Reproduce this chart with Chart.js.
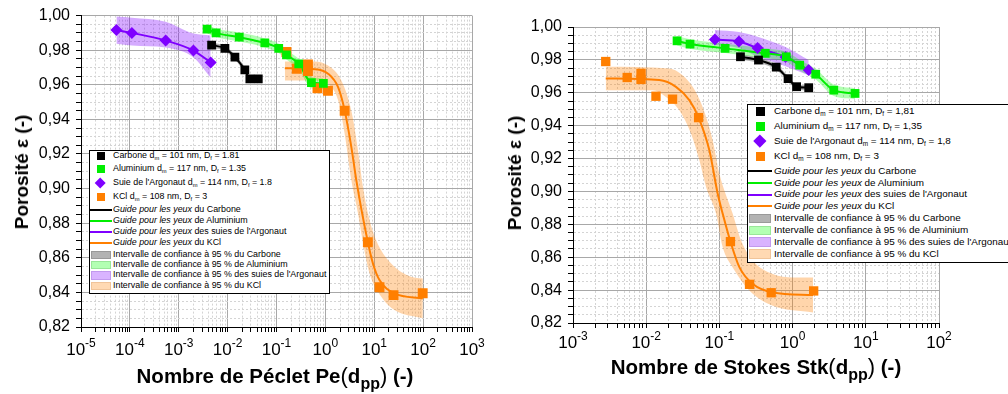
<!DOCTYPE html>
<html>
<head>
<meta charset="utf-8">
<script src="https://cdn.jsdelivr.net/npm/chart.js@4.4.0/dist/chart.umd.min.js"></script>
<style>
body { margin: 0; width: 1008px; height: 394px; overflow: hidden; background: #fff; position: relative;
       font-family: "Liberation Sans", Arial, sans-serif; }
canvas { position: absolute; top: 0; }
.ytitle { position: absolute; font-weight: bold; font-size: 19px; white-space: nowrap;
          transform: translate(-50%, -50%) rotate(-90deg); }
.xtitle { position: absolute; font-weight: bold; font-size: 20.5px; white-space: nowrap; transform: translateX(-50%); }
.xtitle .par { font-weight: normal; font-size: 22px; }
.xtitle sub { font-size: 16px; vertical-align: -6px; line-height: 0; }
.legend { position: absolute; background: #fff; border: 1px solid #000; overflow: hidden; }
.row { position: absolute; left: 0; white-space: nowrap; line-height: 1; }
.row sub { font-size: 65%; vertical-align: -2px; line-height: 0; }
.mk { position: absolute; }
.ln { position: absolute; left: 0; height: 2px; }
.sw { position: absolute; box-sizing: border-box; border: 1px solid; }
</style>
</head>
<body>
<canvas id="pe" width="500" height="394" style="left:0"></canvas>
<canvas id="st" width="508" height="394" style="left:500px"></canvas>

<div class="ytitle" style="left:22px; top:172px">Porosité ε (-)</div>
<div class="ytitle" style="left:515px; top:173px">Porosité ε (-)</div>
<div class="xtitle" style="left:275px; top:363px">Nombre de Péclet Pe<span class="par">(</span>d<sub>pp</sub><span class="par">)</span> (-)</div>
<div class="xtitle" style="left:756px; top:354px">Nombre de Stokes Stk<span class="par">(</span>d<sub>pp</sub><span class="par">)</span> (-)</div>

<div class="legend" id="legPe" style="left:89px; top:150px; width:239px; height:142px"></div>
<div class="legend" id="legSt" style="left:747px; top:104px; width:300px; height:157px"></div>

<script>
// ---- Péclet panel (left) ----
const peCarbX = [0.0047, 0.0088, 0.0141, 0.0225, 0.0285, 0.0424];
const peCarbY = [0.983, 0.981, 0.976, 0.9686, 0.9634, 0.9634];
const peCarbHi = [0.9845, 0.9825, 0.9775, 0.9703, 0.965, 0.965];
const peCarbLo = [0.9815, 0.9795, 0.9745, 0.967, 0.962, 0.962];

const peAlX = [0.0038, 0.0058, 0.0173, 0.0577, 0.111, 0.16, 0.285, 0.518, 0.91];
const peAlY = [0.9922, 0.990, 0.9875, 0.9842, 0.9811, 0.9773, 0.9721, 0.9613, 0.9608];
const peAlHi = [0.9948, 0.9925, 0.9902, 0.9868, 0.9838, 0.980, 0.975, 0.9645, 0.9638];
const peAlLo = [0.9898, 0.9876, 0.985, 0.9816, 0.9784, 0.9746, 0.969, 0.958, 0.9575];

const peSuieX = [5.3e-5, 1.1e-4, 5.4e-4, 2.0e-3, 4.5e-3];
const peSuieY = [0.9917, 0.990, 0.9856, 0.9798, 0.9729];
const peSuieHi = [0.9995, 0.9988, 0.9965, 0.9896, 0.9885];
const peSuieLo = [0.9838, 0.9827, 0.9815, 0.9758, 0.9642];

const peKclX = [0.16, 0.26, 0.44, 0.44, 0.69, 1.13, 2.48, 7.4, 12.8, 24.8, 98];
const peKclY = [0.979, 0.9693, 0.9718, 0.968, 0.958, 0.9566, 0.945, 0.869, 0.843, 0.8384, 0.8395];
const peKclFitX = [0.148, 0.6, 1.135, 1.82, 2.48, 3.40, 4.30, 7.43, 9.4, 12.8, 25.9, 98.6];
const peKclFitY = [0.9696, 0.969, 0.9664, 0.9586, 0.9452, 0.924, 0.9048, 0.8688, 0.8567, 0.8471, 0.8394, 0.8365];
const peKclHiX = [0.148, 0.596, 1.135, 2.12, 3.40, 4.65, 5.87, 7.43, 11.0, 22.2, 56.9, 98.6];
const peKclHiY = [0.9735, 0.9735, 0.9711, 0.9625, 0.945, 0.922, 0.901, 0.8856, 0.870, 0.8567, 0.849, 0.848];
const peKclLoX = [0.148, 0.71, 1.33, 1.82, 2.48, 3.40, 4.65, 5.87, 8.0, 13.9, 25.9, 98.6];
const peKclLoY = [0.9625, 0.9625, 0.9586, 0.951, 0.9317, 0.9048, 0.8856, 0.8688, 0.851, 0.8375, 0.8298, 0.825];

const peExps = [-5, -4, -3, -2, -1, 0, 1, 2, 3];

// ---- Stokes panel (right) ----
const stCarbX = [0.194, 0.342, 0.598, 0.867, 1.135, 1.66];
const stCarbY = [0.9819, 0.9799, 0.9756, 0.9686, 0.9637, 0.9631];
const stCarbHi = [0.9835, 0.9815, 0.9772, 0.9702, 0.9652, 0.9647];
const stCarbLo = [0.9803, 0.9783, 0.974, 0.967, 0.9622, 0.9615];

const stAlX = [0.0264, 0.0397, 0.1197, 0.423, 0.82, 1.25, 2.07, 3.65, 7.13];
const stAlY = [0.9916, 0.9896, 0.987, 0.984, 0.9819, 0.9768, 0.9713, 0.9616, 0.9596];
const stAlHi = [0.9945, 0.9925, 0.9898, 0.987, 0.985, 0.980, 0.9745, 0.965, 0.9628];
const stAlLo = [0.9888, 0.9868, 0.9842, 0.981, 0.9788, 0.9736, 0.968, 0.958, 0.9562];

const stSuieX = [0.0867, 0.185, 0.332, 0.80, 1.66];
const stSuieY = [0.9924, 0.9912, 0.9872, 0.9817, 0.9738];
const stSuieHi = [0.9982, 0.997, 0.9941, 0.9878, 0.9799];
const stSuieLo = [0.989, 0.9872, 0.9819, 0.9762, 0.9707];

const stKclX = [0.0028, 0.0055, 0.0085, 0.0085, 0.0136, 0.0229, 0.052, 0.1415, 0.258, 0.51, 1.94];
const stKclY = [0.979, 0.9693, 0.9718, 0.9681, 0.9579, 0.9561, 0.9449, 0.8695, 0.8435, 0.8384, 0.8395];
const stKclFitX = [0.0028, 0.01507, 0.0255, 0.0388, 0.052, 0.0729, 0.0948, 0.111, 0.1415, 0.188, 0.286, 0.537, 1.90];
const stKclFitY = [0.9687, 0.9677, 0.9636, 0.9555, 0.9449, 0.925, 0.8986, 0.8864, 0.8695, 0.8538, 0.8437, 0.8386, 0.837];
const stKclHiX = [0.0028, 0.02065, 0.0314, 0.0431, 0.059, 0.0809, 0.1, 0.152, 0.198, 0.286, 0.537, 1.01, 1.90];
const stKclHiY = [0.9758, 0.9748, 0.9707, 0.9636, 0.9514, 0.9311, 0.9108, 0.8864, 0.8701, 0.8579, 0.8498, 0.8477, 0.8477];
const stKclLoX = [0.0028, 0.0122, 0.0186, 0.0283, 0.0409, 0.0532, 0.0658, 0.0902, 0.111, 0.152, 0.258, 0.537, 1.90];
const stKclLoY = [0.9616, 0.9616, 0.9575, 0.9494, 0.9352, 0.9189, 0.9026, 0.8864, 0.866, 0.8538, 0.8396, 0.8305, 0.8264];

const stExps = [-3, -2, -1, 0, 1, 2];

// shared y ticks
const yTicks = [0.82, 0.84, 0.86, 0.88, 0.90, 0.92, 0.94, 0.96, 0.98, 1.00];

const colCarb = '#000000', colAl = '#00ee00', colSuie = '#7f00ff', colKcl = '#ff7f00';
const bandCarb = 'rgba(0,0,0,0.3)', bandAl = 'rgba(0,255,0,0.3)', bandSuie = 'rgba(127,0,255,0.33)', bandKcl = 'rgba(255,127,0,0.33)';
const FONT = '"Liberation Sans", Arial, sans-serif';

function pts(xs, ys) {
  return xs.map(function(x, i) { return {x: x, y: ys[i]}; });
}

function band(hiX, hiY, loX, loY, col) {
  return [
    {data: pts(hiX, hiY), fill: '+1', backgroundColor: col, borderWidth: 0, pointRadius: 0, cubicInterpolationMode: 'monotone', order: 3},
    {data: pts(loX, loY), fill: false, borderWidth: 0, pointRadius: 0, cubicInterpolationMode: 'monotone', order: 3}
  ];
}
function guide(xs, ys, col) {
  return {data: pts(xs, ys), borderColor: col, borderWidth: 2, pointRadius: 0, fill: false, cubicInterpolationMode: 'monotone', order: 2};
}
function marks(xs, ys, col, style, r) {
  return {data: pts(xs, ys), showLine: false, pointStyle: style, pointRadius: r, pointBackgroundColor: col,
          pointBorderColor: col, pointBorderWidth: 0, order: 1};
}

const decadeLabels = {
  id: 'decade',
  afterDraw(chart, args, opts) {
    const ctx = chart.ctx, sc = chart.scales.x;
    ctx.save();
    ctx.fillStyle = '#000';
    ctx.textAlign = 'left';
    ctx.textBaseline = 'alphabetic';
    opts.exps.forEach(function(e) {
      const px = sc.getPixelForValue(Math.pow(10, e));
      ctx.font = '17px ' + FONT;
      const w1 = ctx.measureText('10').width;
      ctx.font = '12px ' + FONT;
      const w2 = ctx.measureText(String(e)).width;
      const x0 = px - (w1 + w2) / 2;
      ctx.font = '17px ' + FONT;
      ctx.fillText('10', x0, sc.top + opts.base);
      ctx.font = '12px ' + FONT;
      ctx.fillText(String(e), x0 + w1, sc.top + opts.base - 8);
    });
    ctx.restore();
  }
};

const gridCol = function(c) { return c.tick && c.tick.major ? '#a8a8a8' : '#d4d4d4'; };
const gridDash = function(c) { return c.tick && !c.tick.major ? [2, 2] : []; };

function makeChart(id, exps, sets, pad, yWidth, xHeight, base) {
  const lo = exps[0], hi = exps[exps.length - 1];
  new Chart(document.getElementById(id), {
    type: 'line',
    data: {datasets: sets},
    plugins: [decadeLabels],
    options: {
      responsive: false, animation: false, devicePixelRatio: 1, events: [],
      layout: {padding: pad},
      plugins: {legend: {display: false}, tooltip: {enabled: false}, decade: {exps: exps, base: base}},
      scales: {
        x: {
          type: 'logarithmic', min: Math.pow(10, lo), max: Math.pow(10, hi),
          afterBuildTicks: function(s) {
            const t = [];
            for (let e = lo; e < hi; e++) {
              for (let m = 1; m < 10; m++) t.push({value: m * Math.pow(10, e), major: m === 1});
            }
            t.push({value: Math.pow(10, hi), major: true});
            s.ticks = t;
          },
          afterFit: function(s) { s.height = xHeight; },
          ticks: {display: false, autoSkip: false},
          grid: {color: gridCol, lineWidth: 1, tickLength: 5, tickColor: '#000'},
          border: {color: '#000', width: 1, dash: gridDash}
        },
        y: {
          type: 'linear', min: 0.82, max: 1.0,
          afterBuildTicks: function(s) {
            const t = [];
            for (let i = 0; i < yTicks.length; i++) {
              t.push({value: yTicks[i], major: true});
              if (i < yTicks.length - 1) {
                for (let k = 1; k < 4; k++) t.push({value: yTicks[i] + k * (yTicks[i + 1] - yTicks[i]) / 4, major: false});
              }
            }
            s.ticks = t;
          },
          afterFit: function(s) { s.width = yWidth; },
          ticks: {
            autoSkip: false, color: '#000', padding: 6,
            font: {family: FONT, size: 16},
            callback: function(v, i, t) { return t[i].major ? v.toFixed(2).replace('.', ',') : ''; }
          },
          grid: {color: gridCol, lineWidth: 1, tickLength: 5, tickColor: '#000'},
          border: {color: '#000', width: 1, dash: gridDash}
        }
      }
    }
  });
}

const peSets = [].concat(
  marks(peCarbX, peCarbY, colCarb, 'rect', 6.2),
  marks(peAlX, peAlY, colAl, 'rect', 6.2),
  marks(peSuieX, peSuieY, colSuie, 'rectRot', 6),
  marks(peKclX, peKclY, colKcl, 'rect', 7),
  guide(peCarbX, peCarbY, colCarb),
  guide(peAlX, peAlY, colAl),
  guide(peSuieX, peSuieY, colSuie),
  guide(peKclFitX, peKclFitY, colKcl),
  band(peCarbX, peCarbHi, peCarbX, peCarbLo, bandCarb),
  band(peAlX, peAlHi, peAlX, peAlLo, bandAl),
  band(peSuieX, peSuieHi, peSuieX, peSuieLo, bandSuie),
  band(peKclHiX, peKclHiY, peKclLoX, peKclLoY, bandKcl)
);

const stSets = [].concat(
  marks(stCarbX, stCarbY, colCarb, 'rect', 6.2),
  marks(stAlX, stAlY, colAl, 'rect', 6.2),
  marks(stSuieX, stSuieY, colSuie, 'rectRot', 6),
  marks(stKclX, stKclY, colKcl, 'rect', 6.6),
  guide(stCarbX, stCarbY, colCarb),
  guide(stAlX, stAlY, colAl),
  guide(stSuieX, stSuieY, colSuie),
  guide(stKclFitX, stKclFitY, colKcl),
  band(stCarbX, stCarbHi, stCarbX, stCarbLo, bandCarb),
  band(stAlX, stAlHi, stAlX, stAlLo, bandAl),
  band(stSuieX, stSuieHi, stSuieX, stSuieLo, bandSuie),
  band(stKclHiX, stKclHiY, stKclLoX, stKclLoY, bandKcl)
);

makeChart('pe', peExps, peSets, {top: 15, right: 28, left: 0, bottom: 0}, 81, 67, 28);
makeChart('st', stExps, stSets, {top: 27, right: 69, left: 0, bottom: 0}, 73, 71, 25);

// ---- legends ----
const legNames = ['Carbone', 'Aluminium', "Suie de l'Argonaut", 'KCl'];
const legDm = ['101', '117', '114', '108'];
const legDfPe = ['1.81', '1.35', '1.8', '3'];
const legDfSt = ['1,81', '1,35', '1,8', '3'];
const legGuide = ['du Carbone', 'de Aluminium', "des suies de l'Argonaut", 'du KCl'];
const legCols = [colCarb, colAl, colSuie, colKcl];
const legSw = [['#b3b3b3', '#999'], ['#b3ffb3', '#99e699'], ['#d9b3ff', '#c299ee'], ['#ffd9b3', '#f0c49a']];

function buildLegend(id, df, rows, fs, mk, lineW, textX) {
  const box = document.getElementById(id);
  let html = '';
  for (let i = 0; i < 12; i++) {
    const k = i % 4, c = rows[i];
    let sym = '', txt = '';
    if (i < 4) {
      if (k === 2) {
        const d = mk * 1.3;
        sym = '<div class="mk" style="left:' + (textX / 2 - d / 2 - 1) + 'px;top:' + (c - d / 2) + 'px;width:' + d + 'px;height:' + d +
              'px;background:' + legCols[k] + ';transform:rotate(45deg) scale(0.78)"></div>';
      } else {
        sym = '<div class="mk" style="left:' + (textX / 2 - mk / 2 - 1) + 'px;top:' + (c - mk / 2) + 'px;width:' + mk + 'px;height:' + mk +
              'px;background:' + legCols[k] + '"></div>';
      }
      txt = legNames[k] + ' d<sub>m</sub> = ' + legDm[k] + ' nm, D<sub>f</sub> = ' + df[k];
    } else if (i < 8) {
      sym = '<div class="ln" style="top:' + (c - 1) + 'px;width:' + lineW + 'px;background:' + legCols[k] + '"></div>';
      txt = '<i>Guide pour les yeux</i> ' + legGuide[k];
    } else {
      sym = '<div class="sw" style="left:1px;top:' + (c - fs * 0.5) + 'px;width:' + (lineW - 2) + 'px;height:' + fs +
            'px;background:' + legSw[k][0] + ';border-color:' + legSw[k][1] + '"></div>';
      txt = 'Intervalle de confiance à 95 % ' + legGuide[k];
    }
    html += sym + '<div class="row" style="left:' + textX + 'px;top:' + (c - fs * 0.55) + 'px;font-size:' + fs + 'px">' + txt + '</div>';
  }
  box.innerHTML = html;
}

buildLegend('legPe', legDfPe, [5, 18.3, 32.3, 45.7, 59.3, 70, 80.7, 91.7, 104, 114, 124.3, 135], 8.9, 8, 22, 23);
buildLegend('legSt', legDfSt, [6, 21, 36, 51, 66, 78, 89.5, 101, 113.5, 125.5, 137, 149], 9.9, 9, 24, 26);
</script>
</body>
</html>
